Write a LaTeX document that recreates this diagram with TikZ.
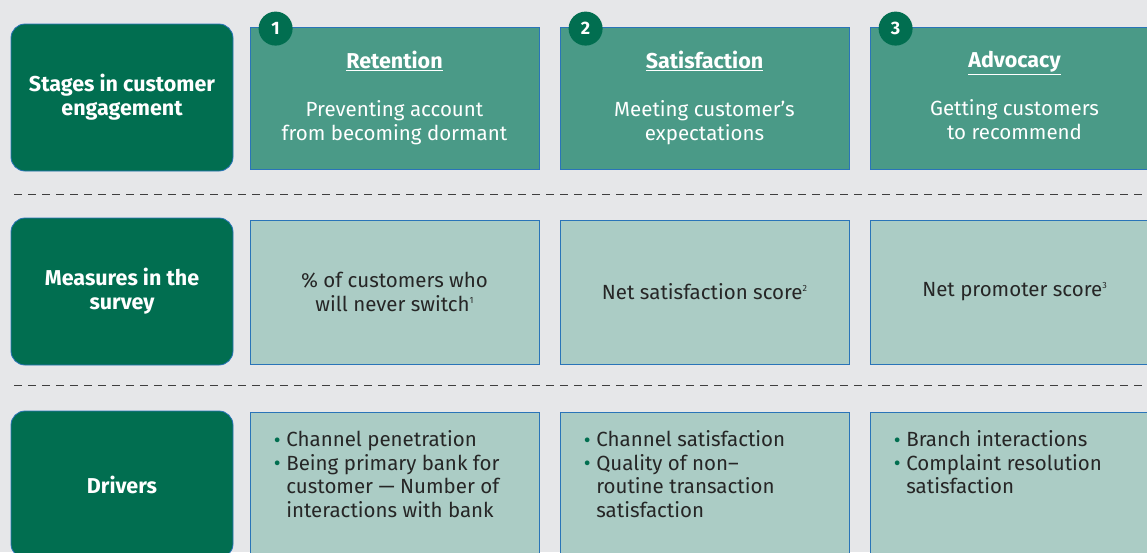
\documentclass[tikz,border=0pt]{standalone}
\usepackage{fontspec}
\setmainfont{Fira Sans}
\usetikzlibrary{positioning}

\definecolor{bgGrey}{HTML}{E6E7E9}
\definecolor{darkGreen}{HTML}{016E50}
\definecolor{midTeal}{HTML}{4A9A87}
\definecolor{lightTeal}{HTML}{ABCCC5}
\definecolor{boxBlue}{HTML}{2A74B8}
\definecolor{textDark}{HTML}{262626}
\definecolor{dashGrey}{HTML}{3F3F3F}

% bullet for the driver lists
\newcommand{\drvbullet}{\makebox[12.5pt][l]{\raisebox{-0.5pt}{\textcolor{darkGreen}{\fontsize{21}{21}\selectfont •}}}}
\newcommand{\drvindent}{\hspace*{12.5pt}}
% footnote marks
\newcommand{\fnmark}[1]{\raisebox{8pt}{\fontsize{9}{9}\selectfont #1}}

\tikzset{
  rowhead/.style={draw=boxBlue, line width=0.8pt, fill=darkGreen, rounded corners=14pt,
    minimum width=222pt, minimum height=147pt, inner sep=0pt, text=white, align=center,
    font=\fontsize{21.5}{24}\selectfont\bfseries},
  stagebox/.style={draw=boxBlue, line width=0.8pt, fill=midTeal, minimum width=289pt,
    minimum height=142pt, inner sep=0pt, text=white, align=center,
    font=\fontsize{20.5}{24}\selectfont},
  cellbox/.style={draw=boxBlue, line width=0.8pt, fill=lightTeal, minimum width=289pt,
    minimum height=144pt, inner sep=0pt, text=textDark, align=center,
    font=\fontsize{20.5}{23.5}\selectfont},
  drvtext/.style={anchor=north west, inner sep=0pt, text=textDark, align=left,
    font=\fontsize{20.5}{23.5}\selectfont},
  stepnum/.style={circle, fill=darkGreen, minimum size=34pt, inner sep=0pt, text=white,
    font=\fontsize{18}{18}\selectfont\bfseries},
  sepline/.style={draw=dashGrey, line width=0.8pt, dash pattern=on 8pt off 6pt}
}

\begin{document}
\begin{tikzpicture}[x=1pt, y=-1pt]
  \useasboundingbox (0,0) rectangle (1147,552);
  \clip (0,0) rectangle (1147,552);
  \fill[bgGrey] (0,0) rectangle (1147,552);

  % row headers
  \node[rowhead] (headStage) at (122,97.5) {Stages in customer\\engagement};
  \node[rowhead] (headMeasure) at (122,291.5) {Measures in the\\survey};
  \node[rowhead] (headDriver) at (122,484.5) {Drivers};

  % stages
  \foreach \i/\x/\t/\a/\b in {1/394.5/Retention/Preventing account/from becoming dormant,
                              2/704.5/Satisfaction/Meeting customer’s/expectations,
                              3/1014.5/Advocacy/Getting customers/to recommend} {
    \node[stagebox] (stage\i) at (\x,98) {{\fontsize{21.5}{24}\selectfont\bfseries\underline{\t}}\\[24pt]\a\\\b\vphantom{g}};
    \node[stepnum] (num\i) at ([xshift=26pt,yshift=-2pt]stage\i.north west) {\i};
  }

  % measures
  \node[cellbox] (measure1) at (394.5,292) {\% of customers who\\will never switch\fnmark{1}};
  \node[cellbox] (measure2) at (704.5,292) {Net satisfaction score\fnmark{2}};
  \node[cellbox] (measure3) at (1014.5,292) {Net promoter score\fnmark{3}};

  % drivers
  \foreach \i/\x in {1/394.5, 2/704.5, 3/1014.5}
    \node[cellbox] (driver\i) at (\x,484) {};
  \node[drvtext] (drv1) at ([xshift=24pt,yshift=-19pt]driver1.north west)
    {\drvbullet Channel penetration\\\drvbullet Being primary bank for\\
     \drvindent customer — Number of\\\drvindent interactions with bank};
  \node[drvtext] (drv2) at ([xshift=24pt,yshift=-19pt]driver2.north west)
    {\drvbullet Channel satisfaction\\\drvbullet Quality of non–\\
     \drvindent routine transaction\\\drvindent satisfaction};
  \node[drvtext] (drv3) at ([xshift=24pt,yshift=-19pt]driver3.north west)
    {\drvbullet Branch interactions\\\drvbullet Complaint resolution\\
     \drvindent satisfaction};

  % separators
  \coordinate (sepA) at (14,194);
  \coordinate (sepB) at (14,385);
  \draw[sepline] (sepA) -- ++(1140,0);
  \draw[sepline] (sepB) -- ++(1140,0);
\end{tikzpicture}
\end{document}
